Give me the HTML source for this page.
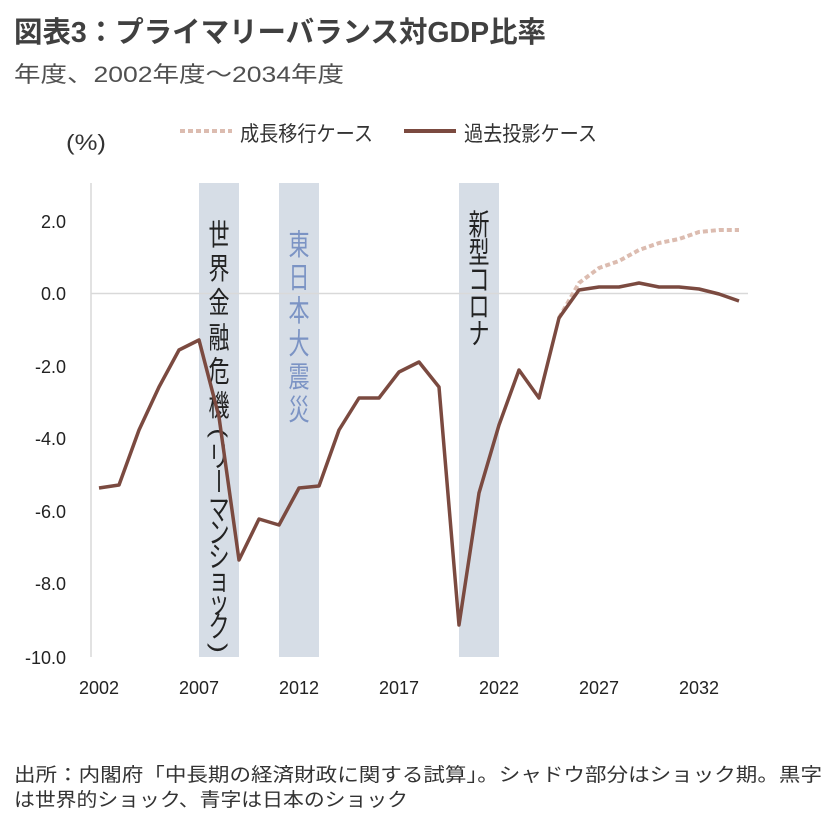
<!DOCTYPE html>
<html><head><meta charset="utf-8"><style>
html,body{margin:0;padding:0;background:#fff;}
body{width:826px;height:813px;overflow:hidden;position:relative;font-family:"Liberation Sans","Noto Sans CJK JP",sans-serif;}
</style></head><body>
<svg width="826" height="813" xmlns="http://www.w3.org/2000/svg" style="position:absolute;left:0;top:0" font-family="Liberation Sans, Noto Sans CJK JP, sans-serif">
<text x="14" y="42" font-size="29" font-weight="bold" fill="#404040" textLength="532" lengthAdjust="spacingAndGlyphs">図表3：プライマリーバランス対GDP比率</text>
<text x="14" y="82" font-size="22" fill="#505050" textLength="330" lengthAdjust="spacingAndGlyphs">年度、2002年度～2034年度</text>
<text x="66" y="150" font-size="22" fill="#333" textLength="40" lengthAdjust="spacingAndGlyphs">(%)</text>
<line x1="180" y1="131" x2="232" y2="131" stroke="#dcbcb0" stroke-width="4" stroke-dasharray="5,3"/>
<text x="240" y="141" font-size="21" fill="#333" textLength="133" lengthAdjust="spacingAndGlyphs">成長移行ケース</text>
<line x1="404" y1="131" x2="456" y2="131" stroke="#7b4a40" stroke-width="4"/>
<text x="464" y="141" font-size="21" fill="#333" textLength="133" lengthAdjust="spacingAndGlyphs">過去投影ケース</text>
<rect x="199" y="183" width="40" height="474" fill="#d6dde6"/>
<rect x="279" y="183" width="40" height="474" fill="#d6dde6"/>
<rect x="459" y="183" width="40" height="474" fill="#d6dde6"/>
<line x1="91" y1="183" x2="91" y2="657" stroke="#d9d9d9" stroke-width="1.5"/>
<line x1="91" y1="293.5" x2="748" y2="293.5" stroke="#d9d9d9" stroke-width="1.5"/>
<g font-size="21" fill="#222" text-anchor="middle">
<text transform="translate(219,235) scale(1,1.4)" y="7">世</text>
<text transform="translate(219,269) scale(1,1.4)" y="7">界</text>
<text transform="translate(219,303) scale(1,1.4)" y="7">金</text>
<text transform="translate(219,338) scale(1,1.4)" y="7">融</text>
<text transform="translate(219,372) scale(1,1.4)" y="7">危</text>
<text transform="translate(219,406) scale(1,1.4)" y="7">機</text>
<text transform="translate(219,433) rotate(90) scale(1.4,1)" y="7">(</text>
<text transform="translate(219,457) scale(1,1.4)" y="7">リ</text>
<text transform="translate(219,510) scale(1,1.4)" y="7">マ</text>
<text transform="translate(219,533) scale(1,1.4)" y="7">ン</text>
<text transform="translate(219,557) scale(1,1.4)" y="7">シ</text>
<text transform="translate(219,580) scale(1,1.4)" y="7">ョ</text>
<text transform="translate(219,603) scale(1,1.4)" y="7">ッ</text>
<text transform="translate(219,627) scale(1,1.4)" y="7">ク</text>
<text transform="translate(219,648) rotate(90) scale(1.4,1)" y="7">)</text>
</g>
<line x1="219" y1="470" x2="219" y2="492" stroke="#222" stroke-width="1.8"/>
<g font-size="21" fill="#7b93c4" text-anchor="middle">
<text transform="translate(299,245) scale(1,1.4)" y="7">東</text>
<text transform="translate(299,278) scale(1,1.4)" y="7">日</text>
<text transform="translate(299,311) scale(1,1.4)" y="7">本</text>
<text transform="translate(299,344) scale(1,1.4)" y="7">大</text>
<text transform="translate(299,377) scale(1,1.4)" y="7">震</text>
<text transform="translate(299,410) scale(1,1.4)" y="7">災</text>
</g>
<g font-size="21" fill="#222" text-anchor="middle">
<text transform="translate(479,225) scale(1,1.4)" y="7">新</text>
<text transform="translate(479,253) scale(1,1.4)" y="7">型</text>
<text transform="translate(479,280) scale(1,1.4)" y="7">コ</text>
<text transform="translate(479,307) scale(1,1.4)" y="7">ロ</text>
<text transform="translate(479,334) scale(1,1.4)" y="7">ナ</text>
</g>
<g font-size="18" fill="#222" text-anchor="end">
<text x="66" y="228">2.0</text><text x="66" y="300">0.0</text><text x="66" y="373">-2.0</text><text x="66" y="445">-4.0</text><text x="66" y="518">-6.0</text><text x="66" y="590">-8.0</text><text x="66" y="664">-10.0</text>
</g>
<g font-size="18" fill="#222" text-anchor="middle">
<text x="99" y="694">2002</text><text x="199" y="694">2007</text><text x="299" y="694">2012</text><text x="399" y="694">2017</text><text x="499" y="694">2022</text><text x="599" y="694">2027</text><text x="699" y="694">2032</text>
</g>
<polyline fill="none" stroke="#dcbcb0" stroke-width="4" stroke-dasharray="5,3" points="559,318 579,283 599,268 619,261 639,250 659,243 679,239 699,232 719,230 739,230"/>
<polyline fill="none" stroke="#7b4a40" stroke-width="3.5" stroke-linejoin="round" points="99,488 119,485 139,430 159,387 179,350 199,340 219,417 239,560 259,519 279,525 299,488 319,486 339,430 359,398 379,398 399,372 419,362 439,387 459,625 479,493 499,425 519,370 539,398 559,318 579,290 599,287 619,287 639,283 659,287 679,287 699,289 719,294 739,301"/>
<text x="14" y="781" font-size="19" fill="#333" textLength="808" lengthAdjust="spacingAndGlyphs">出所：内閣府「中長期の経済財政に関する試算」。シャドウ部分はショック期。黒字</text>
<text x="14" y="806" font-size="19" fill="#333" textLength="394" lengthAdjust="spacingAndGlyphs">は世界的ショック、青字は日本のショック</text>
</svg>
</body></html>
